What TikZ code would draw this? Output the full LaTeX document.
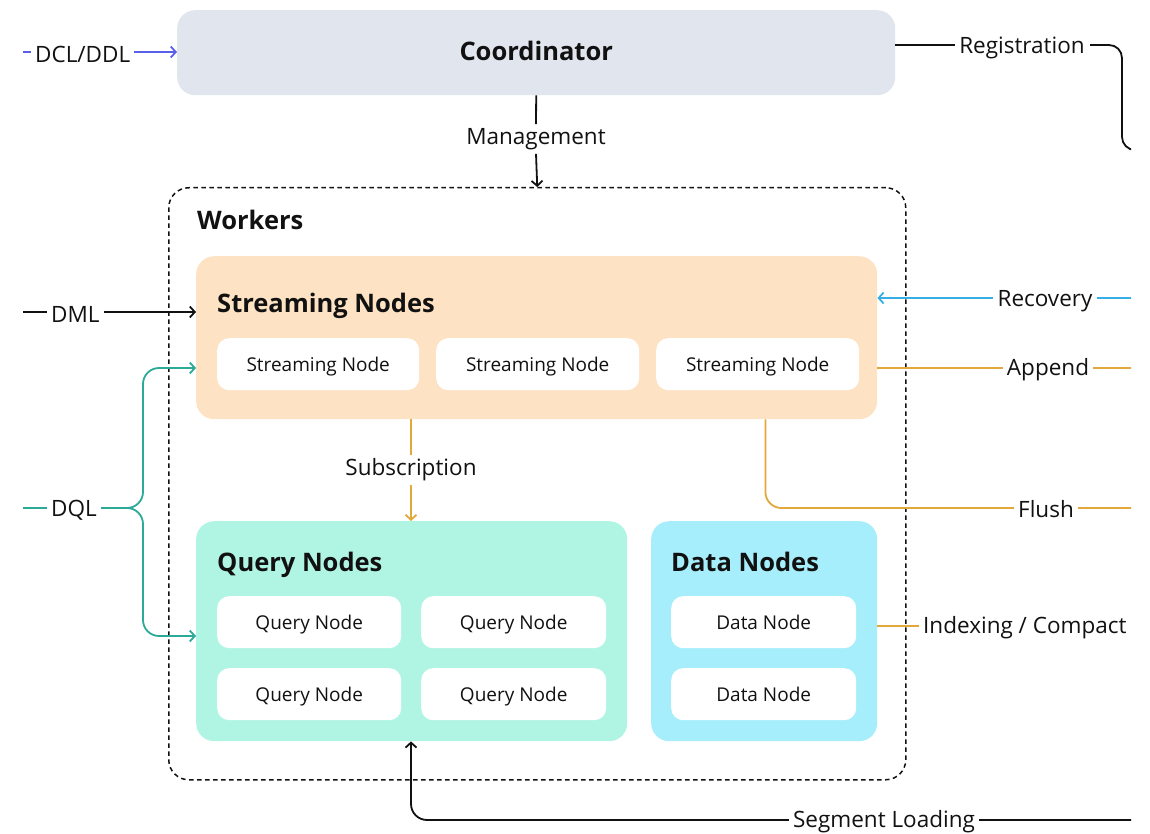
\documentclass[tikz,border=0pt]{standalone}
\usepackage{fontspec}
\setmainfont{Open Sans}
\usetikzlibrary{arrows.meta,calc}
\definecolor{coordfill}{HTML}{E0E5EE}
\definecolor{streamfill}{HTML}{FDE3C4}
\definecolor{queryfill}{HTML}{B0F5E3}
\definecolor{datafill}{HTML}{A6EEFB}
\definecolor{ink}{HTML}{111111}
\definecolor{ddlblue}{HTML}{5A5FE8}
\definecolor{recblue}{HTML}{38AEE4}
\definecolor{dqlteal}{HTML}{2BAA98}
\definecolor{flowamber}{HTML}{E2A83A}
\tikzset{
  panel/.style={rounded corners=18pt, inner sep=0pt, anchor=north west},
  worker/.style={fill=white, rounded corners=12pt, inner sep=0pt, anchor=north west,
    minimum height=52pt, text height=13.6pt, text depth=0pt,
    font=\fontsize{19}{22}\selectfont, text=ink},
  heading/.style={anchor=base west, inner sep=0pt, font=\bfseries\fontsize{25.5}{28}\selectfont, text=ink},
  lbl/.style={inner sep=4pt, font=\fontsize{22.5}{26}\selectfont, text=ink},
  wire/.style={line width=1.8pt, draw=ink},
  tip/.style={-{Straight Barb[length=5pt,width=11pt,line width=1.8pt]}},
}
\begin{document}
\begin{tikzpicture}[x=1pt,y=-1pt]
\useasboundingbox (0,0) rectangle (1150,834);
\begin{scope}
\clip (0,0) rectangle (1131,834);

% Coordinator
\node[panel, fill=coordfill, minimum width=718pt, minimum height=85pt] (coord) at (177,10) {};
\node[font=\bfseries\fontsize{25.5}{28}\selectfont, text=ink, text height=18.2pt, text depth=0pt]
  at ($(coord.center)+(0,-1)$) {Coordinator};

% Workers frame
\node[panel, draw=ink, line width=1.5pt, dash pattern=on 4.5pt off 3.5pt, rounded corners=20pt,
  minimum width=737pt, minimum height=592pt] (workers) at (168,187) {};
\node[heading] at (197,230) {Workers};

% Streaming nodes
\node[panel, fill=streamfill, minimum width=681pt, minimum height=163pt] (sn) at (196,256) {};
\node[heading] at (217,312) {Streaming Nodes};
\node[worker, minimum width=202pt] (s1) at (217,338) {Streaming Node};
\node[worker, minimum width=203pt] (s2) at (436,338) {Streaming Node};
\node[worker, minimum width=203pt] (s3) at (656,338) {Streaming Node};

% Query nodes
\node[panel, fill=queryfill, minimum width=431pt, minimum height=220pt] (qn) at (196,521) {};
\node[heading] at (217,571) {Query Nodes};
\node[worker, minimum width=184pt] (q1) at (217,596) {Query Node};
\node[worker, minimum width=185pt] (q2) at (421,596) {Query Node};
\node[worker, minimum width=184pt] (q3) at (217,668) {Query Node};
\node[worker, minimum width=185pt] (q4) at (421,668) {Query Node};

% Data nodes
\node[panel, fill=datafill, minimum width=226pt, minimum height=220pt] (dn) at (651,521) {};
\node[heading] at (671,571) {Data Nodes};
\node[worker, minimum width=185pt] (d1) at (671,596) {Data Node};
\node[worker, minimum width=185pt] (d2) at (671,668) {Data Node};

% Edge labels
\node[lbl, anchor=west] (ddl) at (31,54) {DCL/DDL};
\node[lbl] (reg) at (1022,48) {Registration};
\node[lbl] (mgmt) at (536,139) {Management};
\node[lbl, anchor=west] (dml) at (47,314) {DML};
\node[lbl, anchor=west] (dql) at (47,510) {DQL};
\node[lbl] (rec) at (1045,301) {Recovery};
\node[lbl] (app) at (1048,370) {Append};
\node[lbl] (flush) at (1046,509) {Flush};
\node[lbl] (sub) at (411,470) {Subscription};
\node[lbl, anchor=west] (idx) at (919,628) {Indexing / Compact};
\node[lbl] (seg) at (884,822) {Segment Loading};

% Free ends of the connectors
\coordinate (ddlin) at (23,52);
\coordinate (dmlin) at (23,312);
\coordinate (dqlin) at (23,508);
\coordinate (regout) at (1140,150);
\coordinate (recin) at (1140,298);
\coordinate (appout) at (1140,368);
\coordinate (flushout) at (1140,508);
\coordinate (segin) at (1140,820);

% Connectors
\draw[wire, draw=ddlblue] (ddlin) -- (ddlin -| ddl.west);
\draw[wire, draw=ddlblue, tip] (ddlin -| ddl.east) -- (ddlin -| coord.west);

\draw[wire] (45,45 -| coord.east) -- (45,45 -| reg.west);
\draw[wire, rounded corners=13pt] (1090,45) -- (1122,45) -- (1122,150) -- (regout);

\draw[wire] (coord.south) -- (mgmt.north);
\draw[wire, tip] (mgmt.south) -- (workers.north);

\draw[wire] (dmlin) -- (dmlin -| dml.west);
\draw[wire, tip] (dmlin -| dml.east) -- (dmlin -| sn.west);

\draw[wire, draw=dqlteal] (dqlin) -- (dqlin -| dql.west);
\draw[wire, draw=dqlteal, tip, rounded corners=16pt] (dqlin -| dql.east) -- (143,508) -- (143,368) -- (sn.west |- 0,368);
\draw[wire, draw=dqlteal, tip, rounded corners=16pt] (dqlin -| dql.east) -- (143,508) -- (143,636) -- (qn.west |- 0,636);

\draw[wire, draw=recblue] (recin) -- (recin -| rec.east);
\draw[wire, draw=recblue, tip] (recin -| rec.west) -- (recin -| sn.east);

\draw[wire, draw=flowamber] (appout -| sn.east) -- (appout -| app.west);
\draw[wire, draw=flowamber] (appout -| app.east) -- (appout);

\draw[wire, draw=flowamber, rounded corners=16pt] ($(sn.south east)+(-112,0)$) -- ($(sn.south east |- flushout)+(-112,0)$) -- (flushout -| flush.west);
\draw[wire, draw=flowamber] (flushout -| flush.east) -- (flushout);

\draw[wire, draw=flowamber] (sn.south -| sub.north) -- (sub.north);
\draw[wire, draw=flowamber, tip] (sub.south) -- (qn.north -| sub.south);

\draw[wire, draw=flowamber] (dn.east |- 0,626) -- (idx.west |- 0,626);

\draw[wire] (segin) -- (segin -| seg.east);
\draw[wire, tip, rounded corners=16pt] (segin -| seg.west) -- (segin -| sub.south) -- (qn.south -| sub.south);
\end{scope}
\end{tikzpicture}
\end{document}
